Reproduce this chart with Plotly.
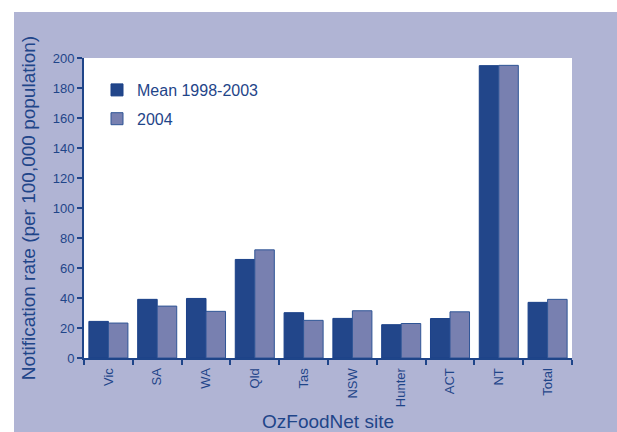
import plotly.graph_objects as go

sites = ["Vic", "SA", "WA", "Qld", "Tas", "NSW", "Hunter", "ACT", "NT", "Total"]
mean_1998_2003 = [24.4, 39.1, 39.7, 65.7, 30.2, 26.4, 22.2, 26.3, 194.9, 37.1]
rate_2004 = [23.3, 34.6, 31.1, 72.1, 25.1, 31.5, 23.0, 30.8, 195.1, 39.1]
y_ticks = [0, 20, 40, 60, 80, 100, 120, 140, 160, 180, 200]

TEXT = "#1F4589"
LAV = "#B0B4D4"
DARK = "#22468A"
LIGHT = "#7880B0"
EDGE = "#1A4088"
FONT = "Liberation Sans, Arial, sans-serif"

W, H = 617, 432
# plot area in screen pixels: x 84..572, y 58..358
L, R, T, B = 84, 617 - 572, 58, 432 - 358
pw, ph = W - L - R, H - T - B

fig = go.Figure()
fig.add_trace(go.Bar(x=sites, y=mean_1998_2003, name="Mean 1998-2003",
                     marker=dict(color=DARK, line=dict(color=EDGE, width=1)),
                     legendgroup="a"))
fig.add_trace(go.Bar(x=sites, y=rate_2004, name="2004",
                     marker=dict(color=LIGHT, line=dict(color="#2F5596", width=1)),
                     legendgroup="b"))

def px_x(p):  # screen px -> paper
    return (p - L) / pw

def px_y(p):
    return (H - B - p) / ph

# white strips outside the lavender panel (top and left)
fig.add_shape(type="rect", xref="paper", yref="paper",
              x0=px_x(-2), x1=px_x(W + 2), y0=px_y(12), y1=px_y(-2),
              fillcolor="white", line=dict(width=0), layer="below")
fig.add_shape(type="rect", xref="paper", yref="paper",
              x0=px_x(-2), x1=px_x(14), y0=px_y(H + 2), y1=px_y(-2),
              fillcolor="white", line=dict(width=0), layer="below")

fig.update_layout(
    width=W, height=H,
    margin=dict(l=L, r=R, t=T, b=B, pad=0, autoexpand=False),
    paper_bgcolor=LAV, plot_bgcolor="white",
    barmode="group", bargap=0.2, bargroupgap=0,
    font=dict(family=FONT, color=TEXT, size=13),
    showlegend=True,
    legend=dict(x=px_x(97), y=px_y(73), xanchor="left", yanchor="top",
                bgcolor="rgba(0,0,0,0)", font=dict(size=16, color=TEXT),
                tracegroupgap=5, itemwidth=30),
    xaxis=dict(
        automargin=False,
        showline=True, linecolor=TEXT, linewidth=2,
        ticks="outside", tickson="boundaries", ticklen=5, tickcolor=TEXT, tickwidth=2,
        tickangle=-90, tickfont=dict(size=13, color=TEXT), ticklabelstandoff=3,
        title=dict(text="OzFoodNet site", font=dict(size=19, color=TEXT), standoff=14),
        showgrid=False,
    ),
    yaxis=dict(
        automargin=False,
        range=[0, 200], tickvals=y_ticks, showline=True, linecolor=TEXT, linewidth=2,
        ticks="outside", ticklen=5, tickcolor=TEXT, tickwidth=2,
        tickfont=dict(size=13, color=TEXT), showgrid=False, zeroline=False,
        title=dict(text="Notification rate (per 100,000 population)",
                   font=dict(size=19, color=TEXT), standoff=12),
    ),
)

fig.write_html(
    "out.html",
    config={"displayModeBar": False},
    post_script=("document.documentElement.style.overflow='hidden';"
                 "document.documentElement.style.background='" + LAV + "';"
                 "document.body.style.background='" + LAV + "';"
                 "document.body.style.margin='0';document.body.style.overflow='hidden';"),
)
